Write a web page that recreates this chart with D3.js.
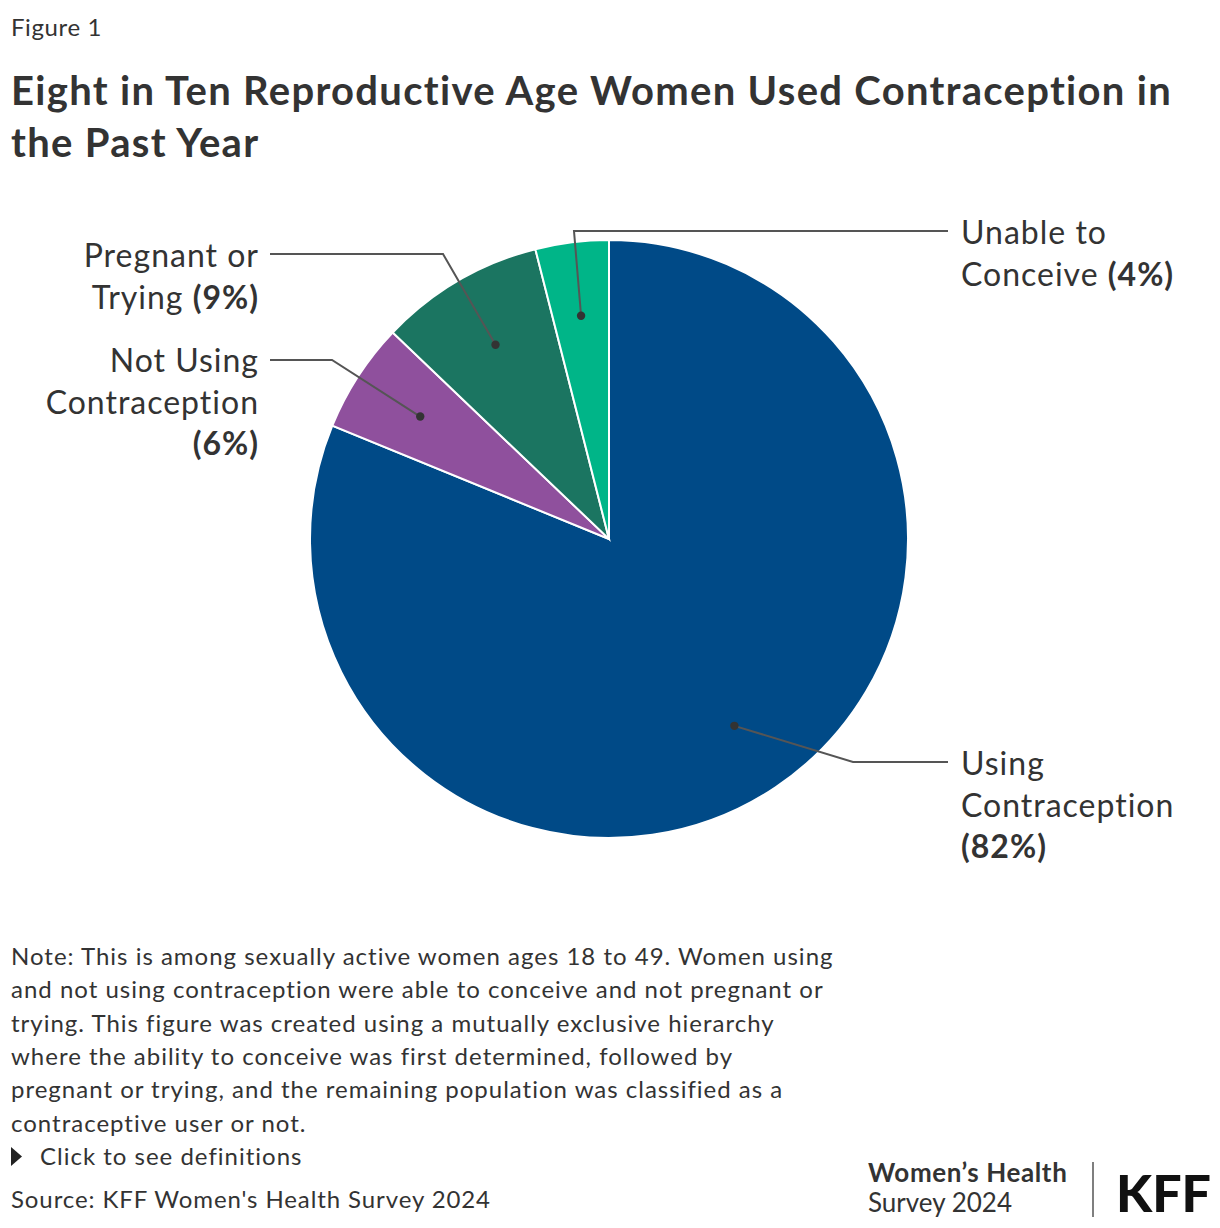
<!DOCTYPE html>
<html>
<head>
<meta charset="utf-8">
<script src="https://cdn.jsdelivr.net/npm/d3@7"></script>
<style>
  html, body { margin: 0; padding: 0; background: #fff; }
  svg { display: block; }
  text { font-family: Lato, "Noto Sans", sans-serif; fill: #333; }
</style>
</head>
<body>
<svg id="chart" width="1220" height="1228"></svg>
<script>
// ---- Data ----
const categories = ["Using Contraception", "Not Using Contraception", "Pregnant or Trying", "Unable to Conceive"];
const values = [82, 6, 9, 4];
const colors = ["#004a87", "#8f509d", "#1b7561", "#00b588"];
const labelLines = [
  ["Using", "Contraception", "(82%)"],
  ["Not Using", "Contraception", "(6%)"],
  ["Pregnant or", "Trying (9%)"],
  ["Unable to", "Conceive (4%)"]
];
const titleLines = ["Eight in Ten Reproductive Age Women Used Contraception in", "the Past Year"];
const noteLines = [
  "Note: This is among sexually active women ages 18 to 49. Women using",
  "and not using contraception were able to conceive and not pregnant or",
  "trying. This figure was created using a mutually exclusive hierarchy",
  "where the ability to conceive was first determined, followed by",
  "pregnant or trying, and the remaining population was classified as a",
  "contraceptive user or not."
];

// ---- Layout ----
const svg = d3.select("#chart");
const cx = 609, cy = 539, R = 299, dotR = 225;

svg.append("text").attr("x", 11).attr("y", 36).attr("font-size", 24)
  .attr("letter-spacing", 0.6).text("Figure 1");
svg.selectAll(".title").data(titleLines).enter().append("text")
  .attr("x", 11).attr("y", (d, i) => 105 + i * 52)
  .attr("font-size", 40).attr("letter-spacing", 1.3).attr("font-weight", 700).text(d => d);

const pie = d3.pie().sort(null).value(d => d)(values);
const arc = d3.arc().innerRadius(0).outerRadius(R);
const dotArc = d3.arc().innerRadius(dotR).outerRadius(dotR);

const g = svg.append("g").attr("transform", `translate(${cx},${cy})`);
g.selectAll("path").data(pie).enter().append("path")
  .attr("d", arc).attr("fill", (d, i) => colors[i])
  .attr("stroke", "#fff").attr("stroke-width", 2);

// label placement (layout, not data)
const labelLayout = [
  { elbow: [853, 762], end: [948, 762], tx: 961, ty: 775, anchor: "start" },
  { elbow: [332, 360], end: [270, 360], tx: 259, ty: 372, anchor: "end" },
  { elbow: [443, 254], end: [270, 254], tx: 259, ty: 267, anchor: "end" },
  { elbow: [574, 231], end: [948, 231], tx: 961, ty: 244, anchor: "start" }
];

pie.forEach((d, i) => {
  const c = dotArc.centroid(d);
  const p = [cx + c[0], cy + c[1]];
  const L = labelLayout[i];
  svg.append("path")
    .attr("d", d3.line()([p, L.elbow, L.end]))
    .attr("fill", "none").attr("stroke", "#555").attr("stroke-width", 2);
  svg.append("circle").attr("cx", p[0]).attr("cy", p[1]).attr("r", 4.2).attr("fill", "#333");
  const t = svg.append("text").attr("text-anchor", L.anchor).attr("font-size", 32)
    .attr("letter-spacing", 1);
  labelLines[i].forEach((line, j) => {
    const ts = t.append("tspan").attr("x", L.tx).attr("y", L.ty + j * 41.5);
    const m = line.match(/^(.*?)(\(\d+%\))$/);
    if (m) {
      if (m[1]) ts.append("tspan").text(m[1]);
      ts.append("tspan").attr("font-weight", 700).text(m[2]);
    } else ts.text(line);
  });
});

// notes
svg.selectAll(".note").data(noteLines).enter().append("text")
  .attr("x", 11).attr("y", (d, i) => 965 + i * 33.3)
  .attr("font-size", 24).attr("letter-spacing", 1).text(d => d);
svg.append("path").attr("d", "M11,1147 L22,1156.5 L11,1166 Z").attr("fill", "#222");
svg.append("text").attr("x", 40).attr("y", 1165).attr("font-size", 24)
  .attr("letter-spacing", 1).text("Click to see definitions");
svg.append("text").attr("x", 11).attr("y", 1208).attr("font-size", 24)
  .attr("letter-spacing", 0.9).text("Source: KFF Women's Health Survey 2024");

// logo
svg.append("text").attr("x", 868).attr("y", 1182).attr("font-size", 26).attr("font-weight", 700)
  .attr("letter-spacing", 0.6).text("Women\u2019s Health");
svg.append("text").attr("x", 868).attr("y", 1212).attr("font-size", 26).text("Survey 2024");
svg.append("line").attr("x1", 1093).attr("x2", 1093).attr("y1", 1162).attr("y2", 1217).attr("stroke", "#555").attr("stroke-width", 1.5);
svg.append("text").attr("x", 1116).attr("y", 1212).attr("font-size", 52).attr("font-weight", 900)
  .style("fill", "#111").text("KFF");
</script>
</body>
</html>
